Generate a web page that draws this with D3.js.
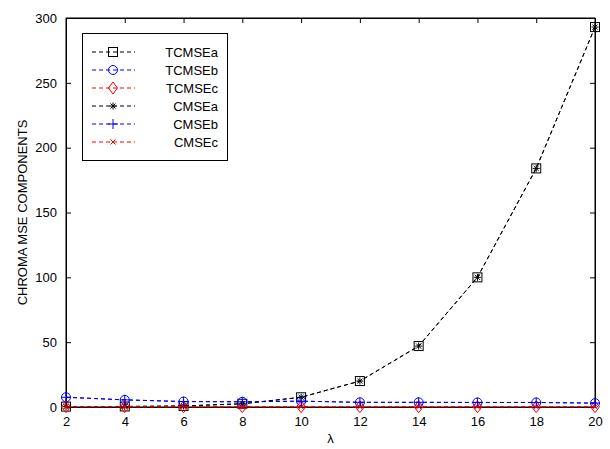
<!DOCTYPE html>
<html>
<head>
<meta charset="utf-8">
<script src="https://cdn.jsdelivr.net/npm/d3@7"></script>
<style>
  body { margin: 0; background: #fff; }
  svg { font-family: "Liberation Sans", Arial, sans-serif; }
</style>
</head>
<body>
<svg id="chart" width="610" height="449"></svg>
<script>
// Chroma MSE components vs lambda
const lambdas = [2, 4, 6, 8, 10, 12, 14, 16, 18, 20];
const tcmseA = [0.3, 0.4, 0.8, 2.5, 7.5, 20, 47, 100, 184, 293];
const tcmseB = [7.5, 5.5, 4.2, 4, 4.5, 3.6, 3.6, 3.5, 3.5, 3];
const tcmseC = [0.2, 0.2, 0.2, 0.2, 0.2, 0.2, 0.2, 0.2, 0.2, 0.2];
const cmseA = tcmseA.slice();
const cmseB = tcmseB.slice();
const cmseC = tcmseC.slice();
const xTicks = [2, 4, 6, 8, 10, 12, 14, 16, 18, 20];
const yTicks = [0, 50, 100, 150, 200, 250, 300];

const series = [
  { name: "TCMSEa", values: tcmseA, color: "#000", marker: "square" },
  { name: "TCMSEb", values: tcmseB, color: "#0000ff", marker: "circle" },
  { name: "TCMSEc", values: tcmseC, color: "#ff0000", marker: "diamond" },
  { name: "CMSEa", values: cmseA, color: "#000", marker: "star" },
  { name: "CMSEb", values: cmseB, color: "#0000ff", marker: "plus" },
  { name: "CMSEc", values: cmseC, color: "#ff0000", marker: "cross" }
];

const svg = d3.select("#chart");
const m = { left: 66, right: 595, top: 18, bottom: 407 };

const x = d3.scaleLinear().domain([2, 20]).range([m.left, m.right]);
const y = d3.scaleLinear().domain([0, 300]).range([m.bottom, m.top]);

// frame
svg.append("rect")
  .attr("x", m.left).attr("y", m.top)
  .attr("width", m.right - m.left).attr("height", m.bottom - m.top)
  .attr("fill", "#fff").attr("stroke", "#000").attr("stroke-width", 1);

// axes with inward ticks
const fmt = d3.format("d");
const gx = svg.append("g").attr("transform", `translate(0,${m.bottom})`)
  .call(d3.axisBottom(x).tickValues(xTicks).tickSizeInner(-5).tickSizeOuter(0).tickPadding(10).tickFormat(fmt));
const gxTop = svg.append("g").attr("transform", `translate(0,${m.top})`)
  .call(d3.axisTop(x).tickValues(xTicks).tickSizeInner(-5).tickSizeOuter(0).tickFormat(""));
const gy = svg.append("g").attr("transform", `translate(${m.left},0)`)
  .call(d3.axisLeft(y).tickValues(yTicks).tickSizeInner(-5).tickSizeOuter(0).tickPadding(9).tickFormat(fmt));
const gyR = svg.append("g").attr("transform", `translate(${m.right},0)`)
  .call(d3.axisRight(y).tickValues(yTicks).tickSizeInner(-5).tickSizeOuter(0).tickFormat(""));
[gx, gxTop, gy, gyR].forEach(g => {
  g.select(".domain").attr("stroke", "#000");
  g.selectAll(".tick line").attr("stroke", "#000");
  g.selectAll("text").attr("fill", "#000").attr("font-size", 13)
    .attr("font-family", "'Liberation Sans', Arial, sans-serif");
});

// axis titles
svg.append("text")
  .attr("x", (m.left + m.right) / 2).attr("y", 443)
  .attr("text-anchor", "middle").attr("font-size", 13).text("λ");
svg.append("text")
  .attr("transform", `translate(27,${(m.top + m.bottom) / 2}) rotate(-90)`)
  .attr("text-anchor", "middle").attr("font-size", 13).text("CHROMA MSE COMPONENTS");

// marker drawing
function drawMarker(g, type, color, cx, cy) {
  const s = 4.5;
  const common = sel => sel.attr("fill", "none").attr("stroke", color).attr("stroke-width", 1);
  if (type === "square") {
    common(g.append("rect").attr("x", cx - s).attr("y", cy - s).attr("width", 2 * s).attr("height", 2 * s));
  } else if (type === "circle") {
    common(g.append("circle").attr("cx", cx).attr("cy", cy).attr("r", s));
  } else if (type === "diamond") {
    common(g.append("path").attr("d", `M${cx},${cy - 6}L${cx + 4.5},${cy}L${cx},${cy + 6}L${cx - 4.5},${cy}Z`));
  } else if (type === "star") {
    const r = 3.5, d = r * 0.72;
    common(g.append("path").attr("d",
      `M${cx - r},${cy}H${cx + r}M${cx},${cy - r}V${cy + r}M${cx - d},${cy - d}L${cx + d},${cy + d}M${cx - d},${cy + d}L${cx + d},${cy - d}`));
  } else if (type === "plus") {
    const r = 5;
    common(g.append("path").attr("d", `M${cx - r},${cy}H${cx + r}M${cx},${cy - r}V${cy + r}`));
  } else if (type === "cross") {
    const r = 2.5;
    common(g.append("path").attr("d", `M${cx - r},${cy - r}L${cx + r},${cy + r}M${cx - r},${cy + r}L${cx + r},${cy - r}`));
  }
}

const line = d3.line().x((d, i) => x(lambdas[i])).y(d => y(d));
const plot = svg.append("g");
series.forEach(s => {
  plot.append("path")
    .attr("d", line(s.values))
    .attr("fill", "none")
    .attr("stroke", s.color)
    .attr("stroke-width", 1)
    .attr("stroke-dasharray", "4,3");
  const mg = plot.append("g");
  s.values.forEach((v, i) => drawMarker(mg, s.marker, s.color, x(lambdas[i]), y(v)));
});

// legend
const lg = svg.append("g");
lg.append("rect").attr("x", 82.5).attr("y", 33.5).attr("width", 145).attr("height", 127)
  .attr("fill", "#fff").attr("stroke", "#000").attr("stroke-width", 1);
series.forEach((s, i) => {
  const ly = 52 + i * 18;
  lg.append("line").attr("x1", 92).attr("x2", 135).attr("y1", ly).attr("y2", ly)
    .attr("stroke", s.color).attr("stroke-dasharray", "4,3");
  drawMarker(lg, s.marker, s.color, 113, ly);
  lg.append("text").attr("x", 218).attr("y", ly + 4.5).attr("text-anchor", "end")
    .attr("font-size", 13).attr("fill", "#000").text(s.name);
});
</script>
</body>
</html>
